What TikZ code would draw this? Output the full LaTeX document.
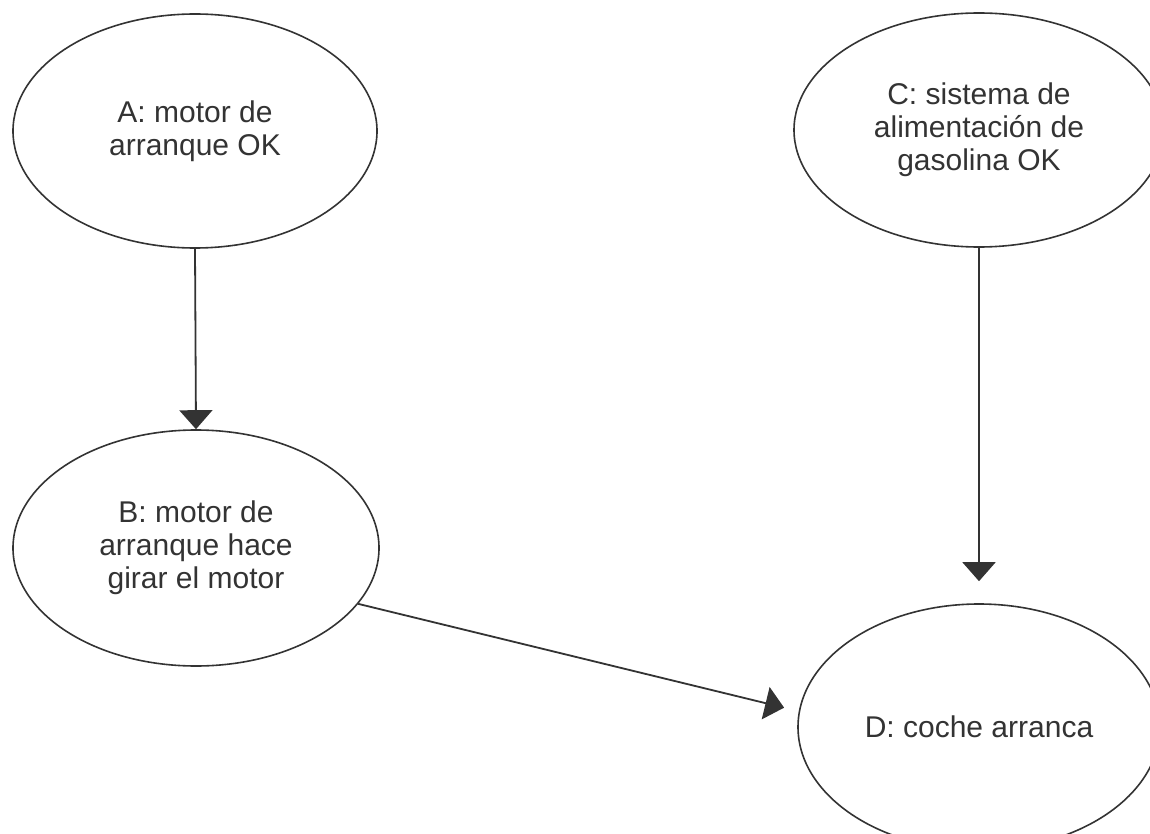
\documentclass[tikz,border=0pt]{standalone}
\usepackage{fontspec}
\setmainfont{Liberation Sans}
\usetikzlibrary{shapes.geometric, arrows.meta}
\definecolor{ink}{HTML}{333333}
\tikzset{
  evt/.style = {draw=ink, ellipse, line width=1.6pt, inner sep=0pt, align=center,
                text=ink, font=\fontsize{30}{33}\selectfont},
  ar/.style  = {draw=ink, line width=1.8pt, -{Triangle[length=19pt, width=33pt]}},
}
\begin{document}
\begin{tikzpicture}[x=1pt, y=-1pt]
  \useasboundingbox (0,0) rectangle (1150,834);
  % events
  \node[evt, minimum width=364pt, minimum height=234pt] (A) at (195,131) {A: motor de\\arranque OK};
  \node[evt, minimum width=366pt, minimum height=236pt] (B) at (196,548) {B: motor de\\arranque hace\\girar el motor};
  \node[evt, minimum width=370pt, minimum height=234pt] (C) at (979,130) {C: sistema de\\alimentación de\\gasolina OK};
  \node[evt, minimum width=362pt, minimum height=246pt] (D) at (979,727) {D: coche arranca};
  % causal links
  \draw[ar] (A.south) -- (B.north);
  \draw[ar, shorten >=22pt] (C.south) -- (D.north);
  \draw[ar, shorten >=15pt] (B.-19.6) -- (D.175.9);
\end{tikzpicture}
\end{document}
